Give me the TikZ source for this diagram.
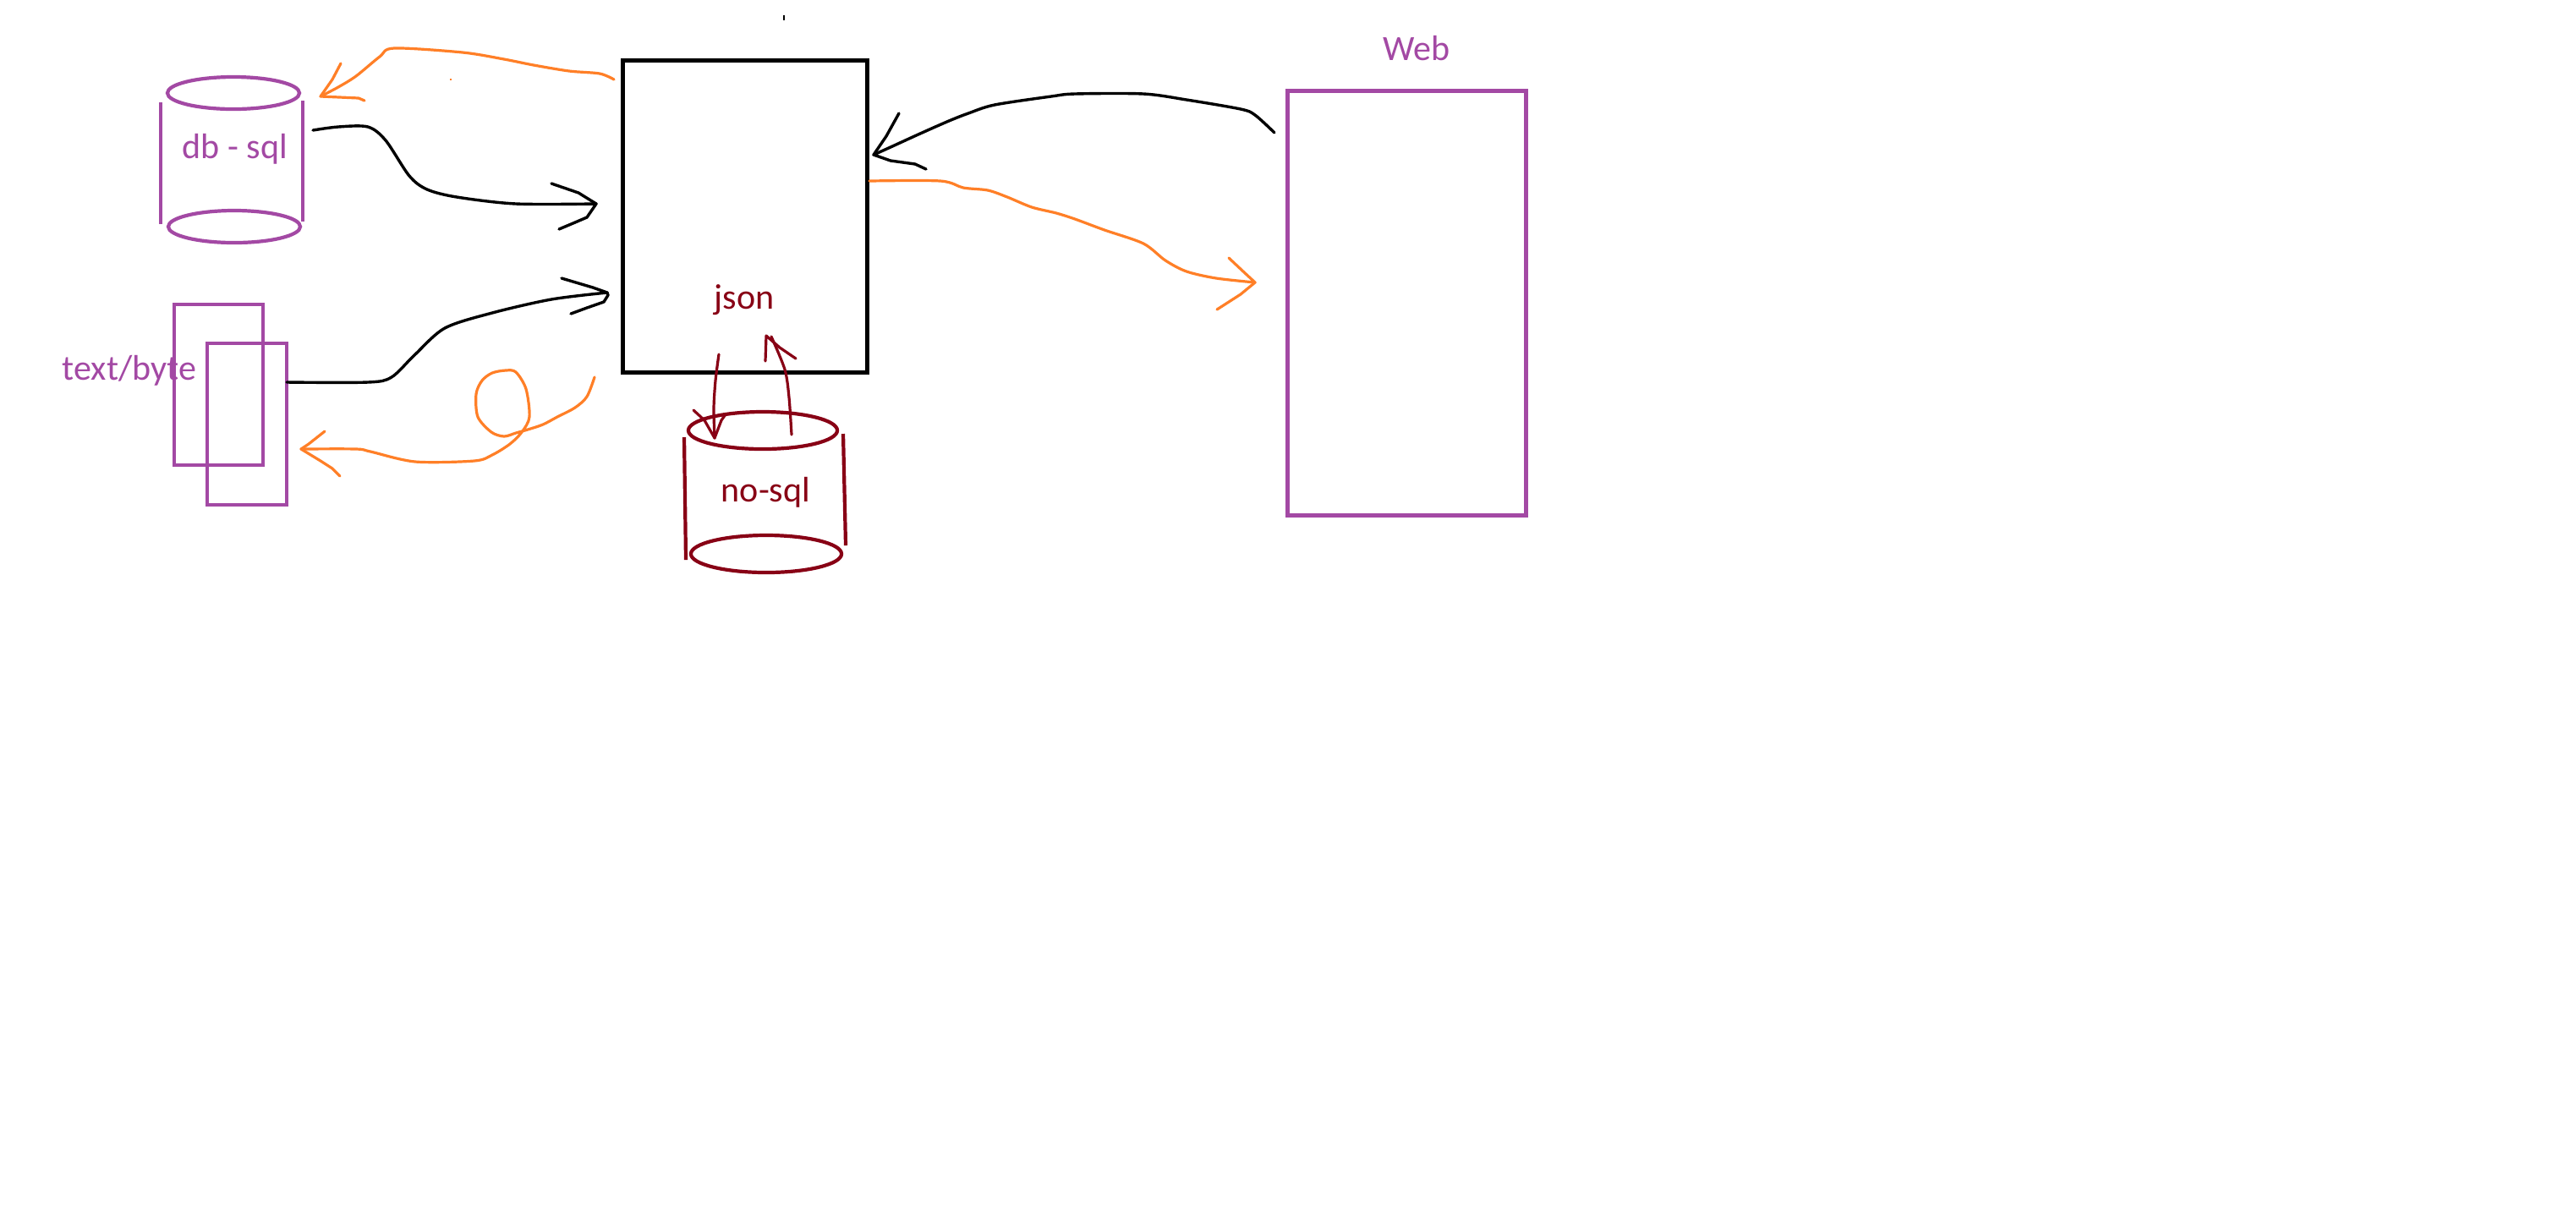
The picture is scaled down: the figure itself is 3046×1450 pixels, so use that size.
\documentclass[tikz,border=0pt]{standalone}
\usepackage{fontspec}
\setmainfont{Carlito}
\definecolor{paintpurple}{RGB}{163,73,164}
\definecolor{paintred}{RGB}{136,0,21}
\definecolor{paintorange}{RGB}{255,127,39}

\begin{document}
\begin{tikzpicture}[x=0.01cm, y=-0.01cm,
  every node/.style={inner sep=0pt, outer sep=0pt},
  txt/.style={font=\fontsize{11.95}{14}\selectfont, anchor=base},
  hubbox/.style={draw=black, line width=0.05cm},
  pbox/.style={draw=paintpurple, line width=0.042cm},
  webbox/.style={draw=paintpurple, line width=0.05cm},
  cylp/.style={draw=paintpurple, line width=0.042cm},
  cylr/.style={draw=paintred, line width=0.042cm},
  ink/.style={line width=0.032cm, line cap=round, line join=round},
  blackink/.style={ink, draw=black, line width=0.034cm},
  orangeink/.style={ink, draw=paintorange},
  redink/.style={ink, draw=paintred},
]
\useasboundingbox[fill=white] (0,0) rectangle (3046,1450);

% central json block
\node[hubbox, minimum width=2.89cm, minimum height=3.69cm] (hub) at (881,256) {};
\node[txt, text=paintred] (json) at (880,365) {json};

% web client
\node[webbox, minimum width=2.815cm, minimum height=5.015cm] (web) at (1663.3,358.3) {};
\node[txt, text=paintpurple] (weblabel) at (1675,71) {Web};

% relational database cylinder
\draw[cylp] (276,110) ellipse [x radius=0.78cm, y radius=0.19cm];
\draw[cylp] (190,121) -- (190,265);
\draw[cylp] (358,119) -- (358,262);
\draw[cylp] (277,268) ellipse [x radius=0.78cm, y radius=0.19cm];
\node[txt, text=paintpurple] (dbsql) at (278,187) {db - sql};

% text/byte files
\node[pbox, minimum width=1.05cm, minimum height=1.90cm] (fileA) at (258.5,455) {};
\node[pbox, minimum width=0.94cm, minimum height=1.91cm] (fileB) at (292,501.5) {};
\node[txt, text=paintpurple] (textbyte) at (153,449) {text/byte};

% document store cylinder
\draw[cylr] (902,509) ellipse [x radius=0.88cm, y radius=0.22cm];
\draw[cylr] (809,517) -- (811,662);
\draw[cylr] (997,513) -- (1000,645);
\draw[cylr] (906,655) ellipse [x radius=0.89cm, y radius=0.22cm];
\node[txt, text=paintred] (nosql) at (905.5,593) {no-sql};

% connector end points
\coordinate (s1) at (370,154);  \coordinate (t1) at (705,241);
\coordinate (s2) at (339,452);  \coordinate (t2) at (718,346);
\coordinate (s3) at (1507,157); \coordinate (t3) at (1033,183);
\coordinate (s4) at (1028,214); \coordinate (t4) at (1484,334);
\coordinate (s5) at (726,94);   \coordinate (t5) at (379,114);
\coordinate (s6) at (703,446);  \coordinate (t6) at (356,531);
\coordinate (s7) at (850,419);  \coordinate (t7) at (845,518);
\coordinate (s8) at (936,514);  \coordinate (t8) at (912,398);

% db - sql -> json
\draw[blackink] plot[smooth, tension=0.5] coordinates {(s1) (400,150) (435,150) (456,166) (484,208) (505,224) (540,233) (610,241) (t1)};
\draw[blackink] (652,217) -- (684,228) -- (t1) -- (694,257) -- (680,263) -- (661,271);

% text/byte -> json
\draw[blackink] plot[smooth, tension=0.5] coordinates {(s2) (435,452) (463,446) (490,420) (526,388) (582,370) (652,354) (t2)};
\draw[blackink] (664,329) -- (701,340) -- (t2) -- (719,349) -- (714,357) -- (694,364) -- (675,371);

% web -> json
\draw[blackink] plot[smooth, tension=0.5] coordinates {(s3) (1484,136) (1467,129) (1403,118) (1352,111) (1271,111) (1243,114) (1176,124) (1145,134) (1122,143) (1088,158) (1053,174) (t3)};
\draw[blackink] (1063,134) -- (1048,161) -- (t3) -- (1053,190) -- (1082,194) -- (1095,200);

% json -> web
\draw[orangeink] plot[smooth, tension=0.5] coordinates {(s4) (1112,214) (1139,222) (1168,225) (1191,233) (1220,245) (1249,252) (1271,259) (1306,272) (1352,288) (1378,308) (1403,321) (1438,329) (t4)};
\draw[orangeink] (1453,305) -- (1470,321) -- (t4) -- (1467,348) -- (1439,366);

% json -> db - sql
\draw[orangeink] plot[smooth, tension=0.5] coordinates {(s5) (709,87) (673,84) (631,77) (596,70) (547,62) (466,57) (449,67) (421,90) (400,103) (t5)};
\draw[orangeink] (403,75) -- (393,94) -- (t5) -- (424,116) -- (431,119);

% json -> text/byte, with a loop on the way
\draw[orangeink] plot[smooth, tension=0.5] coordinates {(s6) (694,469) (680,482) (659,493) (642,502) (624,508) (610,512) (596,516) (581,511) (565,493) (563,466) (570,450) (582,441) (598,438) (610,440) (622,460) (626,493) (617,511) (603,525) (582,538) (561,545) (491,546) (438,534) (421,531) (t6)};
\draw[orangeink] (384,510) -- (365,525) -- (t6) -- (379,545) -- (393,554) -- (402,563);

% json <-> no-sql
\draw[redink] plot[smooth, tension=0.5] coordinates {(s7) (846,450) (844,483) (t7)};
\draw[redink] (820,485) -- (833,497) -- (t7) -- (853,497) -- (858,490);
\draw[redink] plot[smooth, tension=0.5] coordinates {(s8) (933,470) (928,437) (t8)};
\draw[redink] (905,427) -- (906,397) -- (922,411) -- (941,424);

% stray pen marks
\fill[black] (926,18) rectangle (928,24);
\fill[paintorange] (532,93) rectangle (534,95);
\end{tikzpicture}
\end{document}
